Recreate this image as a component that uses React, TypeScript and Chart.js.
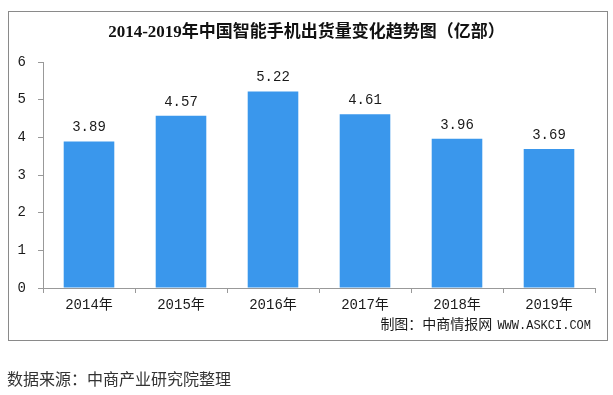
import React, { useEffect, useRef } from "react";
import { Chart, registerables } from "chart.js";

Chart.register(...registerables);

const categories = ["2014年", "2015年", "2016年", "2017年", "2018年", "2019年"];
const shipments = [3.89, 4.57, 5.22, 4.61, 3.96, 3.69];
const yTicks = [0, 1, 2, 3, 4, 5, 6];

const titleText = "2014-2019年中国智能手机出货量变化趋势图（亿部）";
const creditCn = "制图：中商情报网";
const creditEn = "WWW.ASKCI.COM";
const sourceText = "数据来源：中商产业研究院整理";

const MONO = "'Liberation Mono', 'Noto Sans CJK SC', monospace";

const labelPlugin = {
  id: "barLabels",
  afterDatasetsDraw(chart: any) {
    const ctx = chart.ctx;
    const meta = chart.getDatasetMeta(0);
    ctx.save();
    ctx.font = "14px " + MONO;
    ctx.fillStyle = "#1a1a1a";
    ctx.textAlign = "center";
    ctx.textBaseline = "bottom";
    meta.data.forEach((bar: any, i: number) => {
      ctx.fillText(shipments[i].toFixed(2), bar.x, bar.y - 7);
    });
    ctx.restore();
  },
};

export default function App() {
  const ref = useRef<HTMLCanvasElement>(null);
  useEffect(() => {
    if (!ref.current) return;
    const chart = new Chart(ref.current, {
      type: "bar",
      data: {
        labels: categories,
        datasets: [
          {
            data: shipments,
            backgroundColor: "#3A97EC",
            barPercentage: 0.55,
            categoryPercentage: 1,
          },
        ],
      },
      options: {
        animation: false,
        responsive: false,
        layout: { padding: { left: 0, right: 18, top: 62, bottom: 77 } },
        plugins: { legend: { display: false }, tooltip: { enabled: false } },
        scales: {
          x: {
            offset: true,
            grid: {
              offset: true,
              drawOnChartArea: false,
              drawTicks: true,
              tickLength: 5,
              color: "#999",
            },
            border: { display: true, color: "#999" },
            ticks: {
              color: "#1a1a1a",
              font: { size: 14, family: MONO },
              padding: 4,
            },
            afterFit: (s: any) => {
              s.height = 30;
            },
          },
          y: {
            min: 0,
            max: 6,
            afterBuildTicks: (s: any) => {
              s.ticks = yTicks.map((v) => ({ value: v }));
            },
            grid: {
              drawOnChartArea: false,
              drawTicks: true,
              tickLength: 5,
              color: "#999",
            },
            border: { display: true, color: "#999" },
            ticks: {
              color: "#1a1a1a",
              font: { size: 14, family: MONO },
              padding: 12,
            },
            afterFit: (s: any) => {
              s.width = 43;
            },
          },
        },
      },
      plugins: [labelPlugin],
    });
    return () => chart.destroy();
  }, []);

  return (
    <div
      style={{
        position: "absolute",
        left: 0,
        top: 0,
        width: 613,
        height: 395,
        background: "#fff",
        overflow: "hidden",
      }}
    >
      <div
        style={{
          position: "absolute",
          left: 8,
          top: 11,
          width: 600,
          height: 330,
          border: "1px solid #8a8a8a",
          boxSizing: "border-box",
        }}
      />
      <canvas
        ref={ref}
        width={613}
        height={395}
        style={{ position: "absolute", left: 0, top: 0 }}
      />
      <div
        style={{
          position: "absolute",
          left: 0,
          width: 613,
          top: 21,
          textAlign: "center",
          fontFamily: "'Liberation Serif', 'Noto Sans CJK SC', serif",
          fontWeight: "bold",
          fontSize: 17,
          lineHeight: "22px",
          color: "#111",
        }}
      >
        {titleText}
      </div>
      <div
        style={{
          position: "absolute",
          right: 22,
          top: 313,
          lineHeight: "20px",
          color: "#1a1a1a",
          whiteSpace: "nowrap",
        }}
      >
        <span style={{ fontFamily: "'Noto Sans CJK SC', sans-serif", fontSize: 14 }}>
          {creditCn}
        </span>
        <span style={{ fontFamily: MONO, fontSize: 12, marginLeft: 5 }}>{creditEn}</span>
      </div>
      <div
        style={{
          position: "absolute",
          left: 7,
          top: 367,
          fontFamily: "'Noto Sans CJK SC', sans-serif",
          fontSize: 16,
          lineHeight: "22px",
          color: "#333",
          whiteSpace: "nowrap",
        }}
      >
        {sourceText}
      </div>
    </div>
  );
}
